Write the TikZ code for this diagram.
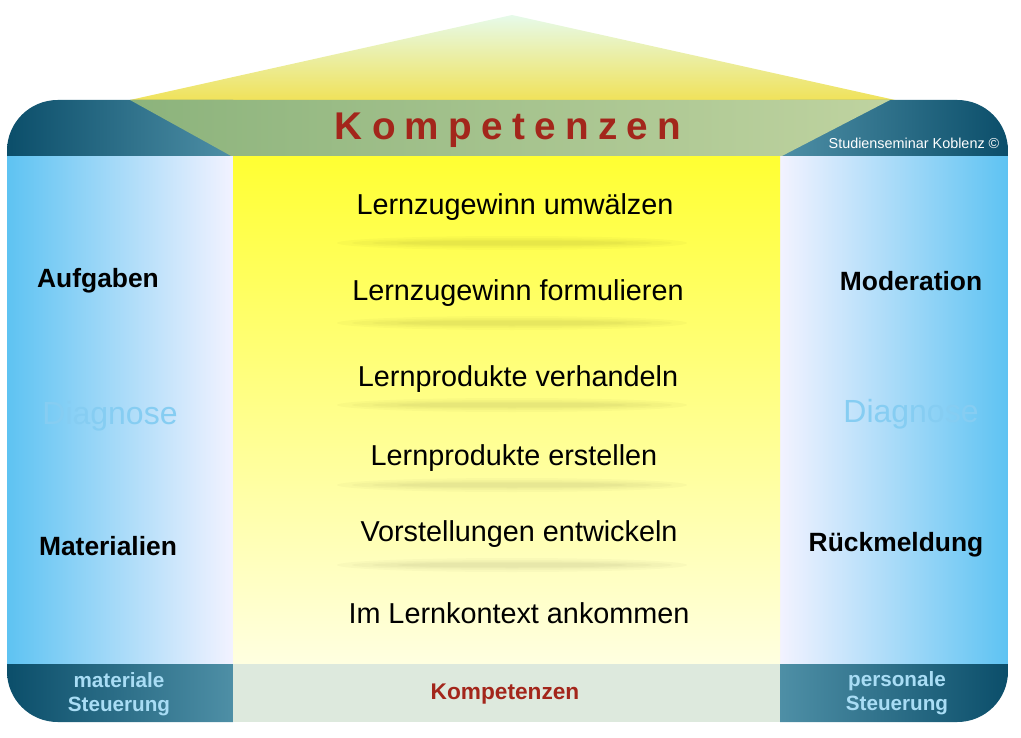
\documentclass[tikz,border=0pt]{standalone}
\usepackage{fontspec}
\setmainfont{Liberation Sans}
\usetikzlibrary{shapes.geometric}
\definecolor{teald}{HTML}{0B4E6A}
\definecolor{teall}{HTML}{4E8FA6}
\definecolor{blueo}{HTML}{5EC3F2}
\definecolor{krot}{HTML}{A3261B}
\definecolor{diag}{HTML}{86CDF2}
\definecolor{lbl}{HTML}{A9DDF5}
\definecolor{gl}{HTML}{8CB37C}
\definecolor{gr}{HTML}{BFD3A0}
\definecolor{rooftop}{HTML}{E6FAEA}
\definecolor{roofbot}{HTML}{F0E25A}
\tikzset{
  stufe/.style={font=\fontsize{21.6}{26}\selectfont, text=black},
  side/.style={font=\bfseries\fontsize{19.8}{24}\selectfont, text=black},
  diagn/.style={font=\fontsize{24}{28}\selectfont, text=diag},
  foot/.style={font=\bfseries\fontsize{15.5}{18}\selectfont, text=lbl, align=center}
}
\begin{document}
\begin{tikzpicture}[x=0.75pt,y=-0.75pt]
\useasboundingbox (0,0) rectangle (1021,738);
% roof
\shade[top color=rooftop, bottom color=roofbot] (512,15) -- (895,100) -- (130,100) -- cycle;
\begin{scope}
\clip[rounded corners=38] (7,100) rectangle (1008,722);
% top bar
\shade[left color=teald, right color=teall] (7,100) rectangle (233,157);
\shade[left color=teall, right color=teald] (780,100) rectangle (1008,157);
\shade[left color=gl, right color=gr] (130,100) -- (890,100) -- (780,157) -- (233,157) -- cycle;
% columns
\shade[left color=blueo, right color=blue!5!white] (7,157) rectangle (233,664);
\shade[left color=blue!5!white, right color=blueo] (780,157) rectangle (1008,664);
\shade[top color=yellow!80!white, bottom color=yellow!12!white] (233,157) rectangle (780,664);
% bottom bar
\shade[left color=teald, right color=teall] (7,664) rectangle (233,722);
\shade[left color=teall, right color=teald] (780,664) rectangle (1008,722);
\fill[green!20!gray!22!white] (233,664) rectangle (780,722);
\end{scope}
% shadows
\foreach \yy in {243,323,405,485,565}{
  \foreach \w/\h in {175/7,160/5,140/3.5,115/2.5}{
    \fill[black, opacity=0.025] (512,\yy) ellipse [x radius=\w, y radius=\h];
  }
}
% texts
\node[font=\bfseries\fontsize{29}{33}\selectfont\addfontfeature{LetterSpace=24}, text=krot] (k) at (508,130) {Kompetenzen};
\node[font=\fontsize{10.8}{13}\selectfont, text=white] (ss) at (914,143) {Studienseminar Koblenz ©};
\node[stufe] (s1) at (515,207) {Lernzugewinn umwälzen};
\node[stufe] (s2) at (518,293) {Lernzugewinn formulieren};
\node[stufe] (s3) at (518,379) {Lernprodukte verhandeln};
\node[stufe] (s4) at (514,458) {Lernprodukte erstellen};
\node[stufe] (s5) at (519,534) {Vorstellungen entwickeln};
\node[stufe] (s6) at (519,613) {Im Lernkontext ankommen};
\node[side] (a) at (98,281) {Aufgaben};
\node[side] (m) at (108,546) {Materialien};
\node[diagn] (d1) at (110,416) {Diagnose};
\node[side] (mo) at (911,281) {Moderation};
\node[side] (r) at (896,545) {Rückmeldung};
\node[diagn] (d2) at (911,414) {Diagnose};
\node[foot] (f1) at (119,694) {materiale\\Steuerung};
\node[foot] (f2) at (897,693) {personale\\Steuerung};
\node[font=\bfseries\fontsize{17}{20}\selectfont, text=krot] (f3) at (505,694) {Kompetenzen};
\end{tikzpicture}
\end{document}
